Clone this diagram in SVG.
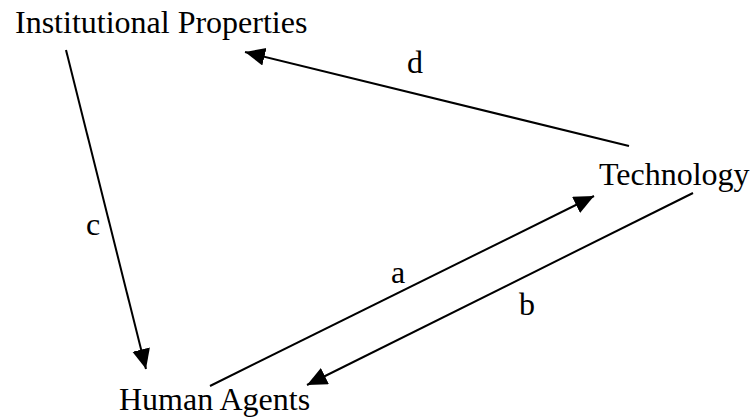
<svg xmlns="http://www.w3.org/2000/svg" width="753" height="417" viewBox="0 0 753 417">
<style>
text{font-family:"Liberation Serif","Times New Roman",serif;font-size:32px;fill:#000}
.e{stroke:#000;stroke-width:2;fill:none}
</style>
<defs>
<marker id="ah" markerUnits="userSpaceOnUse" markerWidth="22" markerHeight="20" refX="20" refY="9" orient="auto" viewBox="0 0 22 20">
<path d="M0,0 L20,9 L0,18 z" fill="#000"/>
</marker>
</defs>
<rect width="753" height="417" fill="#fff"/>
<g id="institutional"><text x="15" y="33">Institutional Properties</text></g>
<g id="technology"><text x="599" y="185">Technology</text></g>
<g id="human"><text x="119" y="410">Human Agents</text></g>
<g id="connectors">
<line class="e" x1="66" y1="50" x2="146" y2="369" marker-end="url(#ah)"/>
<line class="e" x1="629" y1="146" x2="245" y2="52" marker-end="url(#ah)"/>
<line class="e" x1="210" y1="386" x2="594" y2="196" marker-end="url(#ah)"/>
<line class="e" x1="693" y1="193" x2="307" y2="385" marker-end="url(#ah)"/>
<text x="86" y="235">c</text>
<text x="407" y="73">d</text>
<text x="391" y="283">a</text>
<text x="519" y="315">b</text>
</g>
</svg>
